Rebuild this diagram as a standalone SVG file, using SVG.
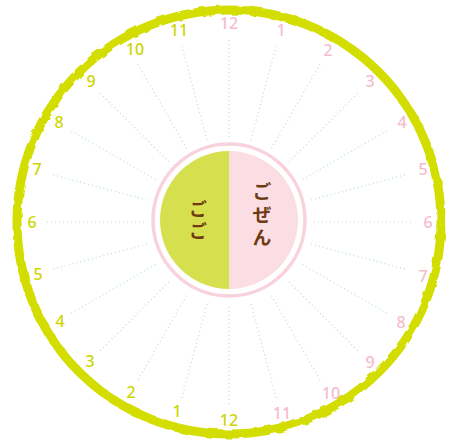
<svg xmlns="http://www.w3.org/2000/svg" width="457" height="443" viewBox="0 0 457 443">
<defs>
<filter id="rough" x="-5%" y="-5%" width="110%" height="110%">
<feTurbulence type="fractalNoise" baseFrequency="0.09" numOctaves="2" seed="3"/>
<feDisplacementMap in="SourceGraphic" scale="4"/>
</filter>
</defs>
<style>
.num{font-family:"Noto Sans","DejaVu Sans",sans-serif;font-size:16px;font-weight:500;text-anchor:middle;dominant-baseline:central}
.am{fill:#f5bccb}
.pm{fill:#cdd600}
.tick{stroke:#b3dfe0;stroke-width:1.2;stroke-dasharray:1 3;fill:none}
.jp{font-family:"Noto Sans CJK JP",sans-serif;font-weight:bold;fill:#6e3a12;text-anchor:middle;writing-mode:vertical-rl;letter-spacing:4px}
</style>
<rect width="457" height="443" fill="#ffffff"/>
<g id="outer-ring">
<circle cx="229" cy="222" r="212" fill="none" stroke="#d3de00" stroke-width="9" filter="url(#rough)"/>
</g>
<g id="connectors">
<line class="tick" x1="229.0" y1="137.0" x2="229.0" y2="37.0"/>
<line class="tick" x1="251.0" y1="139.9" x2="276.9" y2="43.3"/>
<line class="tick" x1="271.5" y1="148.4" x2="321.5" y2="61.8"/>
<line class="tick" x1="289.1" y1="161.9" x2="359.8" y2="91.2"/>
<line class="tick" x1="302.6" y1="179.5" x2="389.2" y2="129.5"/>
<line class="tick" x1="311.1" y1="200.0" x2="407.7" y2="174.1"/>
<line class="tick" x1="314.0" y1="222.0" x2="414.0" y2="222.0"/>
<line class="tick" x1="311.1" y1="244.0" x2="407.7" y2="269.9"/>
<line class="tick" x1="302.6" y1="264.5" x2="389.2" y2="314.5"/>
<line class="tick" x1="289.1" y1="282.1" x2="359.8" y2="352.8"/>
<line class="tick" x1="271.5" y1="295.6" x2="321.5" y2="382.2"/>
<line class="tick" x1="251.0" y1="304.1" x2="276.9" y2="400.7"/>
<line class="tick" x1="229.0" y1="307.0" x2="229.0" y2="407.0"/>
<line class="tick" x1="207.0" y1="304.1" x2="181.1" y2="400.7"/>
<line class="tick" x1="186.5" y1="295.6" x2="136.5" y2="382.2"/>
<line class="tick" x1="168.9" y1="282.1" x2="98.2" y2="352.8"/>
<line class="tick" x1="155.4" y1="264.5" x2="68.8" y2="314.5"/>
<line class="tick" x1="146.9" y1="244.0" x2="50.3" y2="269.9"/>
<line class="tick" x1="144.0" y1="222.0" x2="44.0" y2="222.0"/>
<line class="tick" x1="146.9" y1="200.0" x2="50.3" y2="174.1"/>
<line class="tick" x1="155.4" y1="179.5" x2="68.8" y2="129.5"/>
<line class="tick" x1="168.9" y1="161.9" x2="98.2" y2="91.2"/>
<line class="tick" x1="186.5" y1="148.4" x2="136.5" y2="61.8"/>
<line class="tick" x1="207.0" y1="139.9" x2="181.1" y2="43.3"/>
</g>
<g id="center">
<circle cx="229" cy="220" r="76" fill="#ffffff" stroke="#f8d2dc" stroke-width="3.5"/>
<path d="M229,151 A69,69 0 0,1 229,289 Z" fill="#fbdde4"/>
<path d="M229,151 A69,69 0 0,0 229,289 Z" fill="#d6df4d"/>
</g>
<g id="gozen">
<text class="jp" x="262" y="217" font-size="19">ごぜん</text>
</g>
<g id="gogo">
<text class="jp" x="198" y="222" font-size="18">ごご</text>
</g>
<g id="am-labels">
<text class="num am" x="229" y="23">12</text>
<text class="num am" x="281" y="30">1</text>
<text class="num am" x="328" y="50">2</text>
<text class="num am" x="370" y="81">3</text>
<text class="num am" x="402" y="122">4</text>
<text class="num am" x="423" y="169">5</text>
<text class="num am" x="428" y="222">6</text>
<text class="num am" x="423" y="276">7</text>
<text class="num am" x="401" y="322">8</text>
<text class="num am" x="370" y="362">9</text>
<text class="num am" x="331" y="393">10</text>
<text class="num am" x="282" y="413">11</text>
</g>
<g id="pm-labels">
<text class="num pm" x="229" y="420">12</text>
<text class="num pm" x="177" y="411">1</text>
<text class="num pm" x="131" y="392">2</text>
<text class="num pm" x="90" y="361">3</text>
<text class="num pm" x="60" y="321">4</text>
<text class="num pm" x="38" y="274">5</text>
<text class="num pm" x="32" y="222">6</text>
<text class="num pm" x="37" y="169">7</text>
<text class="num pm" x="59" y="122">8</text>
<text class="num pm" x="91" y="81">9</text>
<text class="num pm" x="135" y="49">10</text>
<text class="num pm" x="179" y="30">11</text>
</g>
</svg>
